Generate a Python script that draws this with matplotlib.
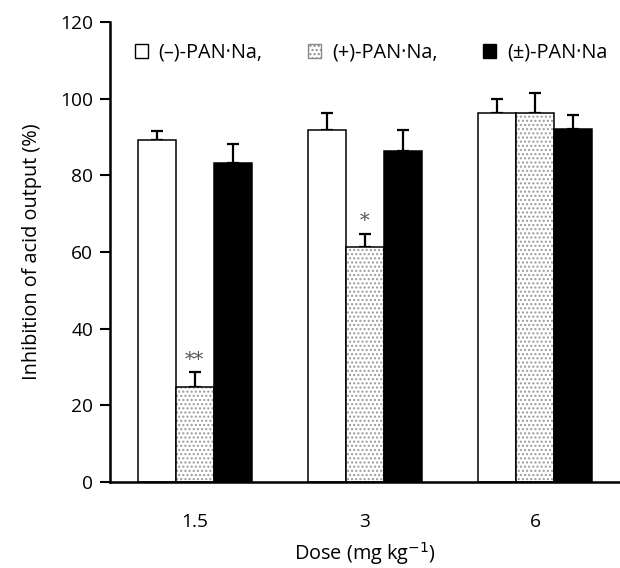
import matplotlib
matplotlib.use("Agg")
import matplotlib.pyplot as plt
from matplotlib.patches import Patch
import numpy as np

plt.rcParams['font.family'] = ['Open Sans', 'DejaVu Sans']

doses = ["1.5", "3", "6"]
series = ["(–)-PAN·Na,", "(+)-PAN·Na,", "(±)-PAN·Na"]
minus_vals = [89.3, 91.8, 96.3]
minus_err = [2.4, 4.4, 3.6]
plus_vals = [24.8, 61.3, 96.3]
plus_err = [3.8, 3.4, 5.1]
pm_vals = [83.3, 86.5, 92.2]
pm_err = [4.8, 5.3, 3.6]
signif = ["**", "*", ""]
yticks = [0, 20, 40, 60, 80, 100, 120]

FS = 14.3

fig = plt.figure(figsize=(6.2, 5.68), dpi=100)
ax = fig.add_axes([0.177, 0.1514, 0.823, 0.8096])

x = np.arange(len(doses))
w = 0.2235
lw = 1.1

ax.bar(x - w, minus_vals, w, color="white", edgecolor="black", linewidth=lw, zorder=2)
ax.bar(x, plus_vals, w, color="white", edgecolor="#9a9a9a", hatch="....", linewidth=0, zorder=2)
ax.bar(x, plus_vals, w, fill=False, edgecolor="black", linewidth=lw, zorder=3)
ax.bar(x + w, pm_vals, w, color="black", edgecolor="black", linewidth=lw, zorder=2)

ekw = dict(fmt="none", ecolor="black", elinewidth=1.6, capsize=4.5, capthick=1.6, zorder=1)
ax.errorbar(x - w, minus_vals, yerr=[np.zeros(3), minus_err], **ekw)
ax.errorbar(x, plus_vals, yerr=[np.zeros(3), plus_err], **ekw)
ax.errorbar(x + w, pm_vals, yerr=[np.zeros(3), pm_err], **ekw)

for xi, v, e, s in zip(x, plus_vals, plus_err, signif):
    if s:
        ax.text(xi, v + e + 1.0, s, ha="center", va="bottom", fontsize=14,
                color="#555555", family="DejaVu Serif")

ax.set_xlim(-0.5, 2.5)
ax.set_ylim(0, 120)
ax.set_yticks(yticks)
ax.set_xticks(x)
ax.set_xticklabels(doses)
ax.tick_params(axis="y", direction="out", length=7, width=1.5, labelsize=13.8, pad=5)
ax.tick_params(axis="x", length=0, labelsize=13.8, pad=22)
for s in ["top", "right"]:
    ax.spines[s].set_visible(False)
for s in ["left", "bottom"]:
    ax.spines[s].set_linewidth(1.8)

ax.set_ylabel("Inhibition of acid output (%)", fontsize=FS, labelpad=13)
ax.set_xlabel("Dose (mg kg$^{-1}$)", fontsize=FS, labelpad=7)

handles = [
    Patch(facecolor="white", edgecolor="black", linewidth=1.0),
    Patch(facecolor="white", edgecolor="#8a8a8a", hatch="....", linewidth=1.0),
    Patch(facecolor="black", edgecolor="black", linewidth=1.0),
]
ax.legend(handles, series, ncol=3, loc="upper left", bbox_to_anchor=(0.022, 0.985),
          frameon=False, fontsize=FS, handlelength=0.65, handleheight=0.65,
          handletextpad=0.55, columnspacing=2.3, borderaxespad=0.3)

fig.savefig("out.png", dpi=100)
